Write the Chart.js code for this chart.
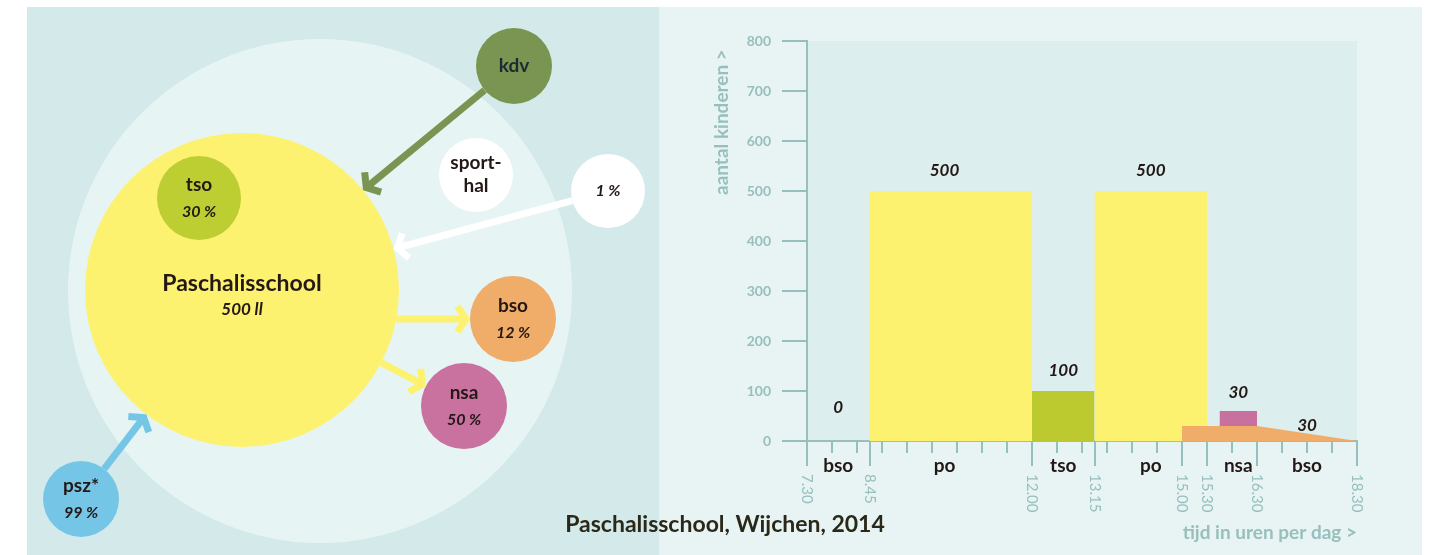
<!DOCTYPE html>
<html lang="nl">
<head>
<meta charset="utf-8">
<title>Paschalisschool, Wijchen, 2014</title>
<script src="https://cdn.jsdelivr.net/npm/chart.js@4.4.1/dist/chart.umd.min.js"></script>
<style>
  html, body { margin: 0; padding: 0; background: #fff; }
  #wrap { position: relative; width: 1430px; height: 555px; overflow: hidden; }
  #links { position: absolute; left: 27px; top: 7px; width: 632px; height: 548px; background: #d3e9ea; }
  #rechts { position: absolute; left: 659px; top: 7px; width: 763px; height: 548px; background: #e8f4f4; }
  #titel { position: absolute; left: 0; width: 1450px; top: 509px; text-align: center;
           font: bold 23px Lato, "Open Sans", sans-serif; color: #2a2818; }
</style>
</head>
<body>
<div id="wrap">
  <div id="links"><canvas id="diagram" width="632" height="548"></canvas></div>
  <div id="rechts"><canvas id="dagverloop" width="763" height="548"></canvas></div>
  <div id="titel">Paschalisschool, Wijchen, 2014</div>
</div>
<script>
// ----- data: dagverloop (rechts) -----
const blockNames = ['bso', 'po', 'tso', 'po', 'nsa', 'bso'];
const blockStart = [7.5, 8.75, 12, 13.25, 15.75, 15];
const blockEnd = [8.75, 12, 13.25, 15.5, 16.5, 18.5];
const blockKids = [0, 500, 100, 500, 30, 30];
const blockLabelAt = [8.125, 10.25, 12.625, 14.375, 16.125, 17.5];
const nsaBase = 30;                      // nsa staat bovenop de bso
const bsoAfternoonTimes = [15, 16.5, 18.5];
const bsoAfternoonKids = [30, 30, 0];
const timeTicks = [7.5, 8.75, 12, 13.25, 15, 15.5, 16.5, 18.5];
const timeTickLabels = ['7.30', '8.45', '12.00', '13.15', '15.00', '15.30', '16.30', '18.30'];

// ----- data: schema (links) -----
const nodeNames = ['', 'Paschalisschool', 'tso', 'kdv', 'sport-\nhal', '', 'bso', 'nsa', 'psz*'];
const nodeShares = ['', '500 ll', '30 %', '', '', '1 %', '12 %', '50 %', '99 %'];
const nodeX = [293, 215, 172, 487, 449, 581, 486, 437, 54];
const nodeY = [284, 283, 191, 59, 168, 184, 312, 399, 492];
const nodeR = [252, 157, 42, 38, 37, 37, 43, 43, 38];
const arrowFrom = [3, 5, 1, 1, 8];
const arrowTo = [1, 1, 6, 7, 1];

// ----- kleuren -----
const axisColor = '#96bfbd';
const textColor = '#231815';
const yellow = '#fdf270';
const nodeColors = ['#e7f4f4', yellow, '#bdce33', '#7a9451', '#ffffff', '#ffffff', '#efad69', '#c9719f', '#75c6e6'];
const arrowColors = ['#7a9451', '#ffffff', yellow, yellow, '#75c6e6'];
const blockColors = ['#efad69', yellow, '#bcc92f', yellow, '#c8719f', '#efad69'];
const FONT = 'Lato, "Open Sans", sans-serif';

// ----- LINKS: cirkelschema -----
const arrowPlugin = {
    id: 'arrows',
    afterDatasetsDraw(chart) {
        const ctx = chart.ctx;
        const sx = chart.scales.x, sy = chart.scales.y;
        const px = i => sx.getPixelForValue(nodeX[i]);
        const py = i => sy.getPixelForValue(nodeY[i]);

        arrowFrom.forEach((f, k) => {
            const t = arrowTo[k];
            let x0, y0, x1, y1;
            if (nodeNames[t] === 'bso') {
                // horizontale pijl naar bso
                y0 = y1 = py(t);
                x0 = px(f) + Math.sqrt(nodeR[f] * nodeR[f] - Math.pow(y0 - py(f), 2));
                x1 = px(t) - nodeR[t];
            } else {
                const dx = px(t) - px(f), dy = py(t) - py(f);
                const d = Math.sqrt(dx * dx + dy * dy);
                x0 = px(f) + dx / d * nodeR[f];
                y0 = py(f) + dy / d * nodeR[f];
                x1 = px(t) - dx / d * nodeR[t];
                y1 = py(t) - dy / d * nodeR[t];
            }
            const a = Math.atan2(y1 - y0, x1 - x0);
            ctx.save();
            ctx.strokeStyle = arrowColors[k];
            ctx.lineWidth = 7;
            ctx.beginPath();
            ctx.moveTo(x0, y0);
            ctx.lineTo(x1 - Math.cos(a) * 3, y1 - Math.sin(a) * 3);
            ctx.stroke();
            ctx.lineJoin = 'miter';
            ctx.beginPath();
            ctx.moveTo(x1 - Math.cos(a - 0.8) * 18, y1 - Math.sin(a - 0.8) * 18);
            ctx.lineTo(x1 - Math.cos(a) * 4, y1 - Math.sin(a) * 4);
            ctx.lineTo(x1 - Math.cos(a + 0.8) * 18, y1 - Math.sin(a + 0.8) * 18);
            ctx.stroke();
            ctx.restore();
        });

        // teksten in de cirkels
        ctx.save();
        ctx.textAlign = 'center';
        ctx.textBaseline = 'middle';
        nodeNames.forEach((name, i) => {
            const x = px(i), y = py(i);
            const big = i === 1;
            const lines = name ? name.split('\n') : [];
            ctx.fillStyle = i === 3 ? '#1c2a36' : textColor;
            if (lines.length === 2) {
                ctx.font = 'bold 19px ' + FONT;
                ctx.fillText(lines[0], x, y - 12);
                ctx.fillText(lines[1], x, y + 11);
            } else if (lines.length === 1 && nodeShares[i]) {
                ctx.font = 'bold ' + (big ? 23 : 19) + 'px ' + FONT;
                ctx.fillText(lines[0], x, y - (big ? 6 : 13));
                ctx.font = 'italic bold ' + (big ? 17 : 16) + 'px ' + FONT;
                ctx.fillText(nodeShares[i], x, y + (big ? 20 : 14));
            } else if (lines.length === 1) {
                ctx.font = 'bold 19px ' + FONT;
                ctx.fillText(lines[0], x, y);
            } else if (nodeShares[i] && i !== 0) {
                ctx.font = 'italic bold 16px ' + FONT;
                ctx.fillText(nodeShares[i], x, y);
            }
        });
        ctx.restore();
    }
};

new Chart(document.getElementById('diagram'), {
    type: 'bubble',
    data: {
        datasets: [{
            label: 'schema',
            data: nodeX.map((x, i) => ({ x: x, y: nodeY[i], r: nodeR[i] })),
            backgroundColor: nodeColors,
            borderWidth: 0,
            clip: false
        }]
    },
    options: {
        responsive: false,
        animation: false,
        events: [],
        layout: { padding: 0, autoPadding: false },
        scales: {
            x: { type: 'linear', min: 0, max: 632, display: false },
            y: { type: 'linear', min: 0, max: 548, reverse: true, display: false }
        },
        plugins: { legend: { display: false }, tooltip: { enabled: false } }
    },
    plugins: [arrowPlugin]
});

// ----- RECHTS: aantal kinderen per dagdeel -----
const datasets = [];
// volgorde: eerste dataset ligt bovenop
[4, 5, 2, 1, 3, 0].forEach(i => {
    let points;
    let fill = 'origin';
    if (i === 5) {
        points = bsoAfternoonTimes.map((t, k) => ({ x: t, y: bsoAfternoonKids[k] }));
    } else if (i === 4) {
        points = [{ x: blockStart[i], y: nsaBase + blockKids[i] }, { x: blockEnd[i], y: nsaBase + blockKids[i] }];
        fill = { value: nsaBase };
    } else {
        points = [{ x: blockStart[i], y: blockKids[i] }, { x: blockEnd[i], y: blockKids[i] }];
    }
    datasets.push({
        label: blockNames[i],
        data: points,
        backgroundColor: blockColors[i],
        borderWidth: 0,
        pointRadius: 0,
        tension: 0,
        fill: fill
    });
});

const dayPlugin = {
    id: 'dayLabels',
    beforeDraw(chart) {
        const a = chart.chartArea;
        chart.ctx.save();
        chart.ctx.fillStyle = '#dceeee';
        chart.ctx.fillRect(a.left, a.top, a.right - a.left, a.bottom - a.top);
        chart.ctx.restore();
    },
    afterDraw(chart) {
        const ctx = chart.ctx;
        const a = chart.chartArea;
        const sx = chart.scales.x, sy = chart.scales.y;
        ctx.save();

        // lange streepjes bij de tijden
        ctx.strokeStyle = axisColor;
        ctx.lineWidth = 2;
        timeTicks.forEach(t => {
            const x = Math.round(sx.getPixelForValue(t));
            ctx.beginPath();
            ctx.moveTo(x, a.bottom);
            ctx.lineTo(x, a.bottom + 25);
            ctx.stroke();
        });

        // tijden, gedraaid
        ctx.fillStyle = axisColor;
        ctx.font = '15px ' + FONT;
        ctx.textAlign = 'left';
        ctx.textBaseline = 'middle';
        timeTicks.forEach((t, k) => {
            ctx.save();
            ctx.translate(sx.getPixelForValue(t), a.bottom + 33);
            ctx.rotate(Math.PI / 2);
            ctx.fillText(timeTickLabels[k], 0, 0);
            ctx.restore();
        });

        // namen van de dagdelen
        ctx.fillStyle = textColor;
        ctx.font = 'bold 19px ' + FONT;
        ctx.textAlign = 'center';
        blockNames.forEach((n, i) => {
            ctx.fillText(n, sx.getPixelForValue(blockLabelAt[i]), a.bottom + 25);
        });

        // aantallen
        const lift = [33, 20, 20, 20, 18, 8];
        ctx.font = 'italic bold 17px ' + FONT;
        blockKids.forEach((v, i) => {
            let top = v;
            if (i === 4) top = nsaBase + v;
            if (i === 5) top = 15;
            ctx.fillText(String(v), sx.getPixelForValue(blockLabelAt[i]), sy.getPixelForValue(top) - lift[i]);
        });

        // as-titels
        ctx.fillStyle = axisColor;
        ctx.font = 'bold 19px ' + FONT;
        ctx.textAlign = 'right';
        ctx.fillText('tijd in uren per dag >', a.right, 526);
        ctx.save();
        ctx.translate(63, 18);
        ctx.rotate(-Math.PI / 2);
        ctx.textAlign = 'left';
        ctx.fillText('aantal kinderen >', -170, 0);
        ctx.restore();

        ctx.restore();
    }
};

new Chart(document.getElementById('dagverloop'), {
    type: 'line',
    data: { datasets: datasets },
    options: {
        responsive: false,
        animation: false,
        events: [],
        layout: { padding: { left: 0, right: 65, top: 34, bottom: 0 } },
        scales: {
            x: {
                type: 'linear',
                min: 7.5,
                max: 18.5,
                afterFit: s => { s.height = 114; },
                ticks: { display: false, stepSize: 0.5 },
                grid: { drawOnChartArea: false, tickLength: 12, color: axisColor, lineWidth: 2 },
                border: { color: axisColor, width: 2 }
            },
            y: {
                min: 0,
                max: 800,
                afterFit: s => { s.width = 148; },
                ticks: { stepSize: 100, padding: 11, color: axisColor, font: { family: FONT, size: 14, weight: 'bold' } },
                grid: { drawOnChartArea: false, tickLength: 25, color: axisColor, lineWidth: 2 },
                border: { color: axisColor, width: 2 }
            }
        },
        plugins: {
            legend: { display: false },
            tooltip: { enabled: false },
            filler: { propagate: false }
        }
    },
    plugins: [dayPlugin]
});
</script>
</body>
</html>
